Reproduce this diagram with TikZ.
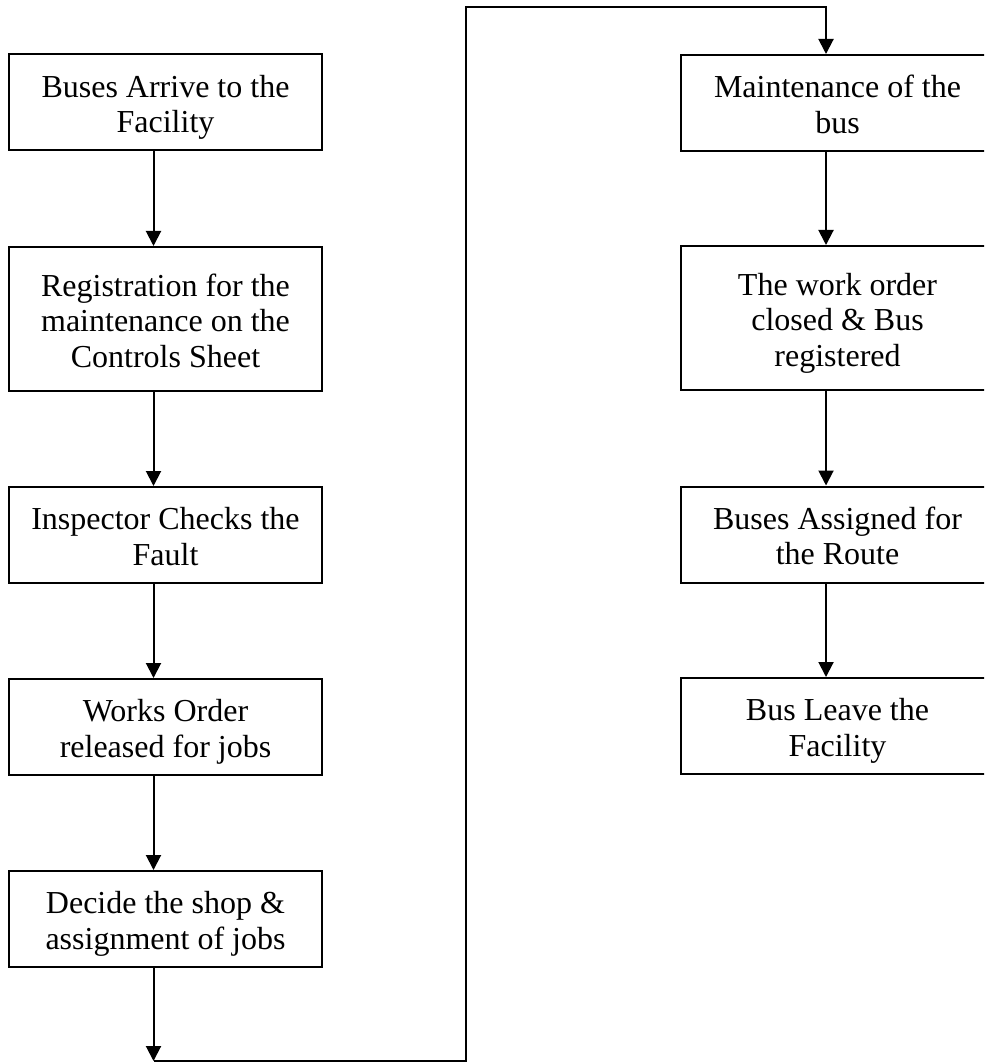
\documentclass[tikz,border=0pt]{standalone}
\usepackage{fontspec}
\setmainfont{Liberation Serif}
\usetikzlibrary{arrows.meta}
\newcommand\toppad{\rule{0pt}{18pt}}
\newcommand\botpad{\rule[-5.34pt]{0pt}{5.34pt}}
\begin{document}
\begin{tikzpicture}[x=0.5pt,y=-0.5pt,
  stepbox/.style={draw,line width=1pt,rectangle,minimum width=156.5pt,inner sep=0pt,
    align=center,font=\fontsize{16}{17.8}\selectfont},
  shortbox/.style={stepbox,minimum height=48pt},
  tallbox/.style={stepbox,minimum height=72pt},
  arr/.style={line width=1pt,-{Triangle[length=7.5pt,width=7.5pt]}}]
\clip (0,0) rectangle (984,1063);
% left column
\node[shortbox] (b1) at (165.5,102.5) {\toppad Buses Arrive to the\\Facility\botpad};
\node[tallbox]  (b2) at (165.5,319) {\toppad Registration for the\\maintenance on the\\Controls Sheet\botpad};
\node[shortbox] (b3) at (165.5,535) {\toppad Inspector Checks the\\Fault\botpad};
\node[shortbox] (b4) at (165.5,727) {\toppad Works Order\\released for jobs\botpad};
\node[shortbox] (b5) at (165.5,919) {\toppad Decide the shop \&\\assignment of jobs\botpad};
% right column
\node[shortbox] (r1) at (837.5,103) {\toppad Maintenance of the\\bus\botpad};
\node[tallbox]  (r2) at (837.5,318) {\toppad The work order\\closed \& Bus\\registered\botpad};
\node[shortbox] (r3) at (837.5,534.5) {\toppad Buses Assigned for\\the Route\botpad};
\node[shortbox] (r4) at (837.5,726) {\toppad Bus Leave the\\Facility\botpad};
% connector x positions
\coordinate (lx) at (153.5,0);
\coordinate (rx) at (826,0);
\coordinate (c1) at (153.5,1061);
\coordinate (c2) at (465.5,1061);
\coordinate (c3) at (465.5,7);
\coordinate (c4) at (826,7);
\draw[arr] (b1.south -| lx) -- (b2.north -| lx);
\draw[arr] (b2.south -| lx) -- (b3.north -| lx);
\draw[arr] (b3.south -| lx) -- (b4.north -| lx);
\draw[arr] (b4.south -| lx) -- (b5.north -| lx);
\draw[arr] (b5.south -| lx) -- (c1);
\draw[arr] (c1) -- (c2) -- (c3) -- (c4) -- (r1.north -| rx);
\draw[arr] (r1.south -| rx) -- (r2.north -| rx);
\draw[arr] (r2.south -| rx) -- (r3.north -| rx);
\draw[arr] (r3.south -| rx) -- (r4.north -| rx);
\end{tikzpicture}
\end{document}
